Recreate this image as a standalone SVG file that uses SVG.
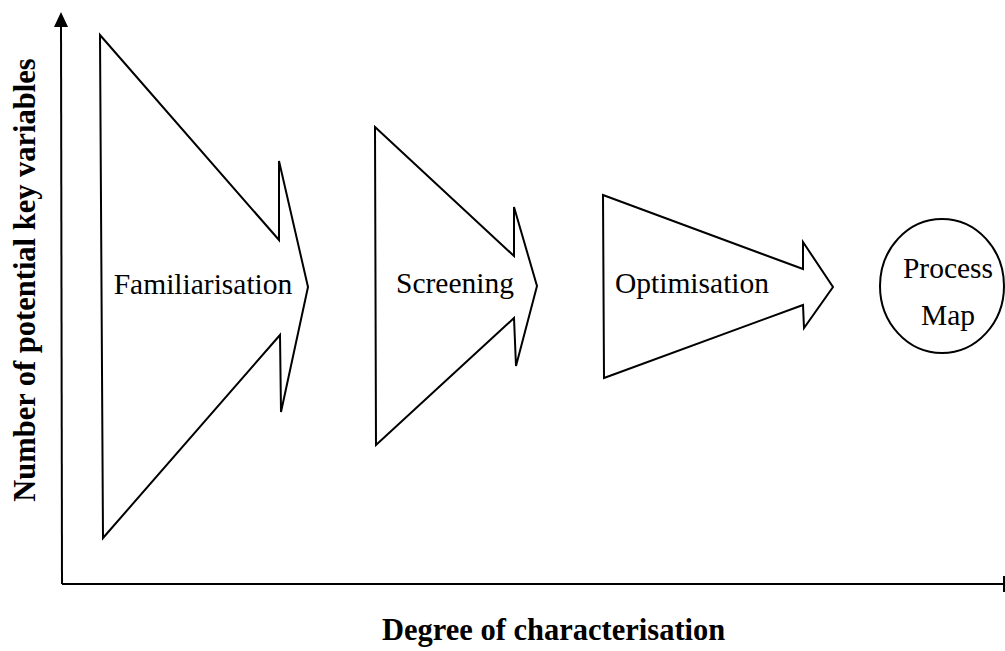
<svg xmlns="http://www.w3.org/2000/svg" width="1005" height="651" viewBox="0 0 1005 651">
<style>
.shape{fill:#fff;stroke:#000;stroke-width:2;stroke-linejoin:miter}
.lbl{font-family:"Liberation Serif","Times New Roman",serif;font-size:29.5px;fill:#000}
.axl{font-family:"Liberation Serif","Times New Roman",serif;font-size:30.5px;font-weight:bold;fill:#000}
.axis{stroke:#000;stroke-width:2;fill:none}
</style>
<rect width="1005" height="651" fill="#fff"/>
<g id="axes">
<path class="axis" d="M62,584 L61,24"/>
<polygon points="61,12 54,27 68,27" fill="#000"/>
<path class="axis" d="M62,584 L1003,584"/>
<line x1="1004" y1="576" x2="1004" y2="592" stroke="#000" stroke-width="2"/>
</g>
<g id="familiarisation">
<polygon class="shape" points="100,35 279,240 279,161 308,287 281,412 280,335 103,538"/>
<text class="lbl" x="203" y="294" text-anchor="middle">Familiarisation</text>
</g>
<g id="screening">
<polygon class="shape" points="375,127 514,256 514,207 537,286 516,366 514,318 376,445"/>
<text class="lbl" x="455" y="293" text-anchor="middle">Screening</text>
</g>
<g id="optimisation">
<polygon class="shape" points="603,195 803,269 803,242 833,287 804,328 803,305 604,378"/>
<text class="lbl" x="692" y="293" text-anchor="middle">Optimisation</text>
</g>
<g id="processmap">
<ellipse class="shape" cx="942" cy="286" rx="62" ry="67"/>
<text class="lbl" x="948" y="278" text-anchor="middle">Process</text>
<text class="lbl" x="948" y="325" text-anchor="middle">Map</text>
</g>
<g id="labels">
<text class="axl" x="382" y="640">Degree of characterisation</text>
<text class="axl" transform="translate(35,280) rotate(-90)" text-anchor="middle">Number of potential key variables</text>
</g>
</svg>
